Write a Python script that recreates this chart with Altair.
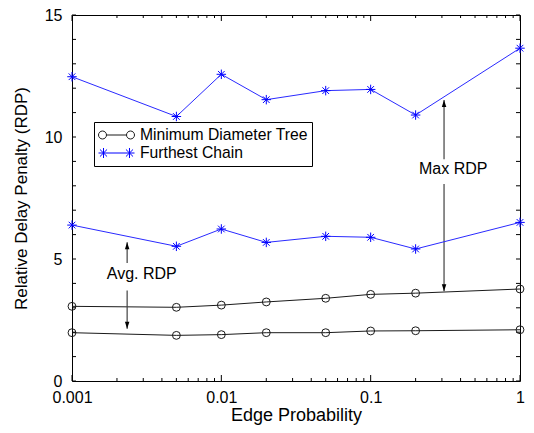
import altair as alt
import pandas as pd

# ---- data ----
edge_prob = [0.001, 0.005, 0.01, 0.02, 0.05, 0.1, 0.2, 1]
mdt_avg = [1.98, 1.87, 1.90, 1.98, 1.98, 2.05, 2.06, 2.10]
mdt_max = [3.06, 3.02, 3.11, 3.24, 3.39, 3.55, 3.60, 3.77]
fc_avg = [6.39, 5.52, 6.23, 5.68, 5.93, 5.89, 5.41, 6.50]
fc_max = [12.47, 10.84, 12.57, 11.53, 11.90, 11.95, 10.90, 13.64]

series_names = ["Minimum Diameter Tree", "Furthest Chain"]

x_major = [0.001, 0.01, 0.1, 1]
x_minor = [k * 10.0 ** e for e in (-3, -2, -1) for k in range(2, 10)]
y_ticks = list(range(0, 16))
y_labels = [0, 5, 10, 15]

ann_text = ["Avg. RDP", "Max RDP"]
ann_x = [0.00293, 0.357]
ann_y = [4.4, 8.69]

arrow_x = [0.00234, 0.00234, 0.31, 0.31]
arrow_from = [4.84, 3.71, 9.09, 8.07]
arrow_to = [5.69, 2.14, 11.52, 3.68]
arrow_dir = ["up", "down", "up", "down"]

# ---- tables ----
rows = []
for s, metric, vals in [
    (series_names[0], "avg", mdt_avg),
    (series_names[0], "max", mdt_max),
    (series_names[1], "avg", fc_avg),
    (series_names[1], "max", fc_max),
]:
    for x, v in zip(edge_prob, vals):
        rows.append({"x": x, "y": v, "series": s, "metric": metric})
df = pd.DataFrame(rows)

ann_df = pd.DataFrame({"x": ann_x, "y": ann_y, "t": ann_text})
arr_df = pd.DataFrame({"x": arrow_x, "y1": arrow_from, "y2": arrow_to, "d": arrow_dir})
xmaj_df = pd.DataFrame({"v": x_major})
xmin_df = pd.DataFrame({"v": x_minor})
yt_df = pd.DataFrame({"v": y_ticks})

W, H = 448, 366
FONT = "Liberation Sans"
BLACK = "#1a1a1a"
BLUE = "#0000ff"
BLUE_LINE = "#2a2aff"
GRAY = "#404040"

xs = alt.Scale(type="log", domain=[0.001, 1])
ys = alt.Scale(domain=[0, 15], nice=False, zero=False)

X_AXIS = alt.Axis(
    values=x_major, format="~g", title="Edge Probability", tickSize=0,
    domain=False, grid=False, labelPadding=8, titlePadding=1, labelFlush=False,
    labelFontSize=16, titleFontSize=18)
Y_AXIS = alt.Axis(
    values=y_labels, title="Relative Delay Penalty (RDP)", tickSize=0,
    domain=False, grid=False, labelPadding=10, titlePadding=14, labelFlush=False,
    labelFontSize=16, titleFontSize=17)


def X(field):
    return alt.X(field, scale=xs, axis=X_AXIS)


def Y(field):
    return alt.Y(field, scale=ys, axis=Y_AXIS)


asterisk = "M0,-1L0,1M-1,0L1,0M-0.7,-0.7L0.7,0.7M-0.7,0.7L0.7,-0.7"
leg_mdt = ("M-1,0A0.222,0.222,0,1,0,-0.556,0A0.222,0.222,0,1,0,-1,0Z"
           "M-0.556,0L0.556,0"
           "M0.556,0A0.222,0.222,0,1,0,1,0A0.222,0.222,0,1,0,0.556,0Z")
leg_fc = ("M-1,0L1,0"
          "M-0.722,-0.278L-0.722,0.278M-0.919,-0.197L-0.525,0.197M-0.919,0.197L-0.525,-0.197"
          "M0.722,-0.278L0.722,0.278M0.525,-0.197L0.919,0.197M0.525,0.197L0.919,-0.197")

base = alt.Chart(df)

mdt_line = base.transform_filter(alt.datum.series == series_names[0]).mark_line(
    color=BLACK, strokeWidth=1).encode(x=X("x:Q"), y=Y("y:Q"), detail="metric:N")
mdt_pts = base.transform_filter(alt.datum.series == series_names[0]).mark_point(
    shape="circle", filled=False, color=BLACK, size=62, strokeWidth=1, opacity=1).encode(
    x=X("x:Q"), y=Y("y:Q"))
fc_line = base.transform_filter(alt.datum.series == series_names[1]).mark_line(
    color=BLUE_LINE, strokeWidth=1).encode(x=X("x:Q"), y=Y("y:Q"), detail="metric:N")
fc_pts = base.transform_filter(alt.datum.series == series_names[1]).mark_point(
    shape=asterisk, filled=False, color=BLUE, size=90, strokeWidth=1, opacity=1).encode(
    x=X("x:Q"), y=Y("y:Q"))

LEG = alt.Legend(
    orient="none", legendX=22, legendY=107, title=None,
    fillColor="white", strokeColor="black", padding=4,
    rowPadding=0, symbolSize=1296, clipHeight=18,
    symbolOffset=0, labelOffset=5, labelFontSize=15.7,
    labelFont=FONT, labelLimit=0, symbolStrokeWidth=1,
    symbolOpacity=1, labelColor="black")

legend_layer = base.transform_filter("false").mark_point(filled=False, opacity=1).encode(
    x=X("x:Q"), y=Y("y:Q"),
    color=alt.Color("series:N", scale=alt.Scale(domain=series_names, range=[BLACK, BLUE]),
                    legend=LEG),
    shape=alt.Shape("series:N", scale=alt.Scale(domain=series_names, range=[leg_mdt, leg_fc]),
                    legend=LEG),
)


# ---- inward ticks ----
def xticks(data, length):
    bot = alt.Chart(data).mark_rule(color="black", strokeWidth=1).encode(
        x=X("v:Q"), y=alt.value(H), y2=alt.value(H - length))
    top = alt.Chart(data).mark_rule(color="black", strokeWidth=1).encode(
        x=X("v:Q"), y=alt.value(0), y2=alt.value(length))
    return [bot, top]


yl = alt.Chart(yt_df).mark_rule(color="black", strokeWidth=1).encode(
    y=Y("v:Q"), x=alt.value(0), x2=alt.value(4))
yr = alt.Chart(yt_df).mark_rule(color="black", strokeWidth=1).encode(
    y=Y("v:Q"), x=alt.value(W), x2=alt.value(W - 4))

# ---- annotations ----
arr_rule = alt.Chart(arr_df).mark_rule(color=GRAY, strokeWidth=1.2).encode(
    x=X("x:Q"), y=Y("y1:Q"), y2="y2:Q")
head_up = alt.Chart(arr_df).transform_filter(alt.datum.d == "up").mark_point(
    shape="M0,0L-0.45,1.4L0.45,1.4Z", filled=True, color="black", size=100, opacity=1).encode(
    x=X("x:Q"), y=Y("y2:Q"))
head_down = alt.Chart(arr_df).transform_filter(alt.datum.d == "down").mark_point(
    shape="M0,0L-0.45,-1.4L0.45,-1.4Z", filled=True, color="black", size=100, opacity=1).encode(
    x=X("x:Q"), y=Y("y2:Q"))
ann = alt.Chart(ann_df).mark_text(fontSize=16, font=FONT, color="black").encode(
    x=X("x:Q"), y=Y("y:Q"), text="t:N")

chart = alt.layer(
    mdt_line, *xticks(xmaj_df, 6), *xticks(xmin_df, 3), yl, yr,
    arr_rule, head_up, head_down, ann,
    fc_line, mdt_pts, fc_pts, legend_layer,
).properties(
    width=W, height=H,
    padding={"left": 64, "top": 7, "right": 6, "bottom": 44},
    autosize=alt.AutoSizeParams(type="none"),
).configure_view(
    stroke="black", strokeWidth=1
).configure_axis(
    labelFont=FONT, titleFont=FONT, labelColor="black", titleColor="black",
    titleFontWeight="normal"
)

chart.save("out.html", embed_options={"renderer": "svg", "actions": False})
